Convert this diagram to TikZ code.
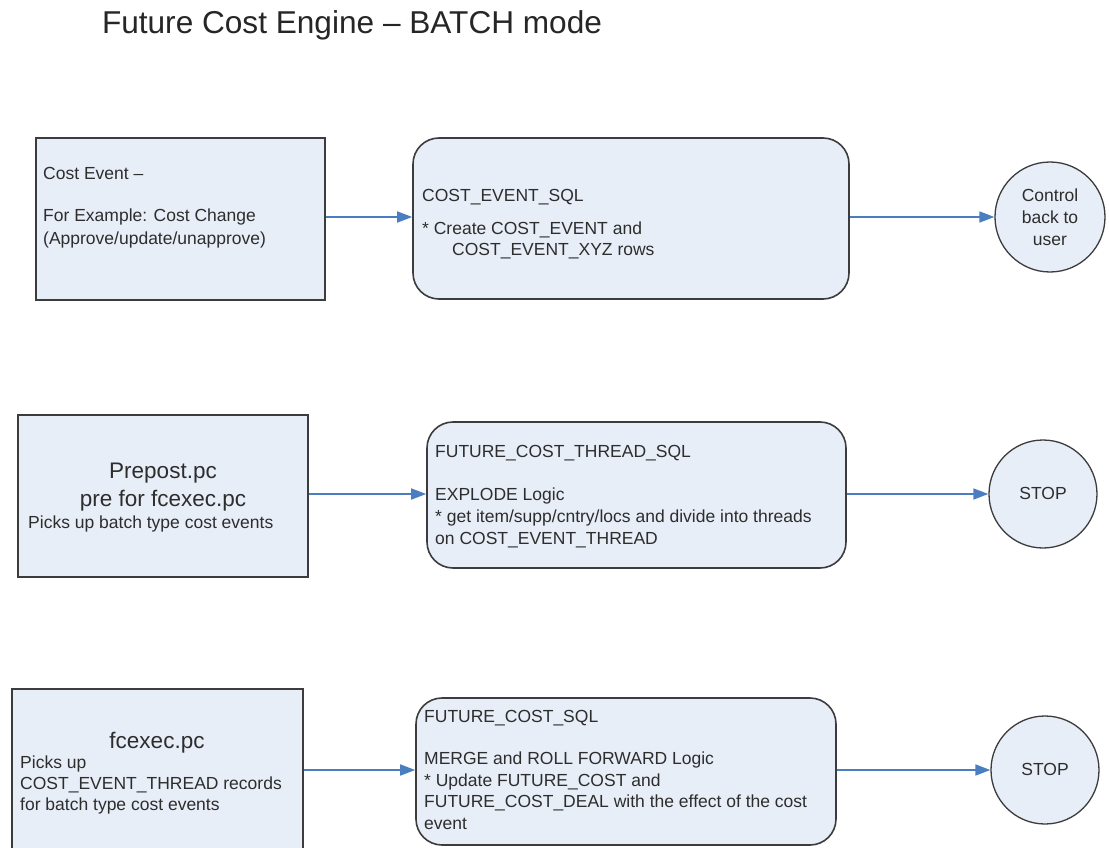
\documentclass[tikz,border=0pt]{standalone}
\usepackage{fontspec}
\setmainfont{Liberation Sans}
\usetikzlibrary{arrows.meta}
\definecolor{boxfill}{RGB}{232,238,248}
\definecolor{boxline}{RGB}{60,60,60}
\definecolor{arrowblue}{RGB}{74,126,193}
\definecolor{txt}{RGB}{45,45,45}
\tikzset{
  rectbox/.style={draw=boxline, fill=boxfill, line width=1.6pt, inner sep=0pt},
  roundbox/.style={rectbox, rounded corners=26pt},
  circbox/.style={draw=boxline, fill=boxfill, line width=1.3pt, circle, inner sep=0pt},
  flow/.style={draw=arrowblue, line width=1.6pt, -{Triangle[length=15pt,width=11pt]}},
  ln/.style={anchor=base west, inner sep=0pt, text=txt, font=\fontsize{17.5}{21}\selectfont},
  lnc/.style={anchor=base, inner sep=0pt, text=txt, font=\fontsize{17.5}{21}\selectfont},
  big/.style={anchor=base, inner sep=0pt, text=txt, font=\fontsize{22.5}{27}\selectfont},
}
\begin{document}
\begin{tikzpicture}[x=1pt,y=-1pt]
\useasboundingbox (0,0) rectangle (1109,848);
\clip (0,0) rectangle (1109,848);
\fill[white] (0,0) rectangle (1109,848);

\node[anchor=base, inner sep=0pt, text=black!85, font=\fontsize{31.6}{37}\selectfont] (title) at (352,34) {Future Cost Engine – BATCH mode};

% row 1
\node[rectbox, minimum width=289pt, minimum height=162pt] (b1) at (180.5,219) {};
\node[roundbox, minimum width=436pt, minimum height=161pt] (r1) at (631,218.5) {};
\node[circbox, minimum size=110pt] (c1) at (1050,217) {};
\draw[flow] (b1.east |- c1) -- (r1.west |- c1);
\draw[flow] (r1.east |- c1) -- (c1.west);

\node[ln] (t1a) at (43,179) {Cost Event –};
\node[ln] (t1b) at (43,222) {For Example: Cost Change};
\node[ln] (t1c) at (43,244) {(Approve/update/unapprove)};
\node[ln] (u1a) at (422,201) {COST\_EVENT\_SQL};
\node[ln] (u1b) at (422,234) {* Create COST\_EVENT and};
\node[ln] (u1c) at (452,255) {COST\_EVENT\_XYZ rows};
\node[lnc] (v1a) at (1050,201) {Control};
\node[lnc] (v1b) at (1050,223) {back to};
\node[lnc] (v1c) at (1050,245) {user};

% row 2
\node[rectbox, minimum width=290pt, minimum height=162pt] (b2) at (163,496) {};
\node[roundbox, minimum width=419pt, minimum height=146pt] (r2) at (636.5,495) {};
\node[circbox, minimum size=108pt] (c2) at (1043,494) {};
\draw[flow] (b2.east |- c2) -- (r2.west |- c2);
\draw[flow] (r2.east |- c2) -- (c2.west);

\node[big] (t2a) at (163,478) {Prepost.pc};
\node[big] (t2b) at (163,506) {pre for fcexec.pc};
\node[ln] (t2c) at (28,528) {Picks up batch type cost events};
\node[ln] (u2a) at (435,457) {FUTURE\_COST\_THREAD\_SQL};
\node[ln] (u2b) at (435,500) {EXPLODE Logic};
\node[ln] (u2c) at (435,522) {* get item/supp/cntry/locs and divide into threads};
\node[ln] (u2d) at (435,544) {on COST\_EVENT\_THREAD};
\node[lnc] (v2a) at (1043,499) {STOP};

% row 3
\node[rectbox, minimum width=291pt, minimum height=181pt] (b3) at (157.5,779.5) {};
\node[roundbox, minimum width=420pt, minimum height=147pt] (r3) at (626,771.5) {};
\node[circbox, minimum size=108pt] (c3) at (1045,770) {};
\draw[flow] (b3.east |- c3) -- (r3.west |- c3);
\draw[flow] (r3.east |- c3) -- (c3.west);

\node[big] (t3a) at (157,748) {fcexec.pc};
\node[ln] (t3b) at (20,768) {Picks up};
\node[ln] (t3c) at (20,789) {COST\_EVENT\_THREAD records};
\node[ln] (t3d) at (20,810) {for batch type cost events};
\node[ln] (u3a) at (424,722) {FUTURE\_COST\_SQL};
\node[ln] (u3b) at (424,764) {MERGE and ROLL FORWARD Logic};
\node[ln] (u3c) at (424,786) {* Update FUTURE\_COST and};
\node[ln] (u3d) at (424,807) {FUTURE\_COST\_DEAL with the effect of the cost};
\node[ln] (u3e) at (424,829) {event};
\node[lnc] (v3a) at (1045,775) {STOP};
\end{tikzpicture}
\end{document}
